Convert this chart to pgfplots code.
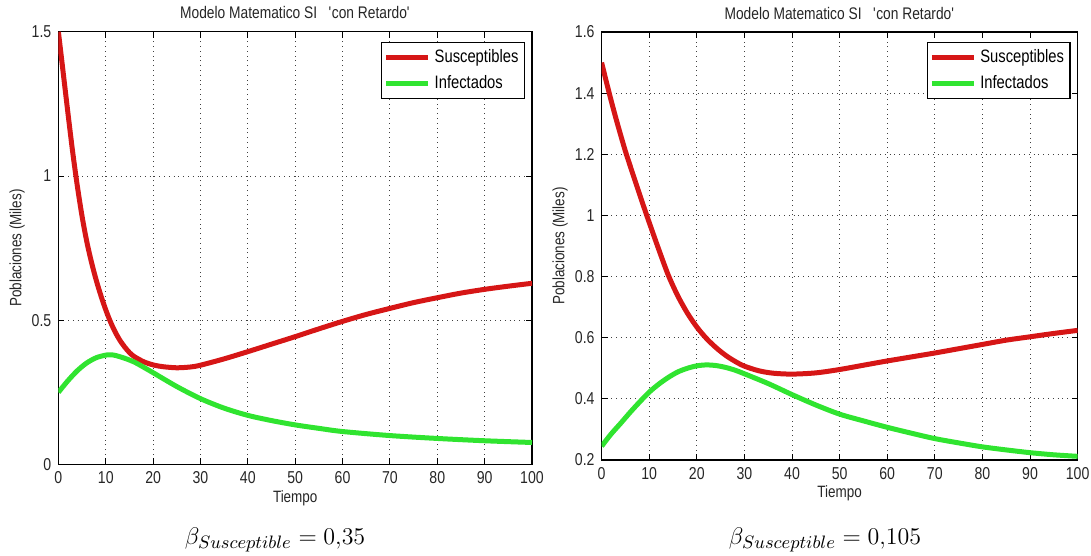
\documentclass[border=0pt]{standalone}
\usepackage[no-math]{fontspec}
\setmainfont{Liberation Sans}[FakeStretch=0.82]
\usepackage{pgfplots}
\pgfplotsset{compat=1.18}
\definecolor{sred}{RGB}{214,22,22}
\definecolor{igreen}{RGB}{48,228,48}
\pgfplotsset{
  sirstyle/.style={
    scale only axis,
    xmin=0, xmax=100,
    xtick={0,10,...,100},
    grid=major,
    major grid style={dotted, black!75, line width=0.45pt},
    axis line style={line width=0.6pt},
    major tick length=3pt,
    tick style={line width=0.5pt, black},
    /pgf/number format/assume math mode=true,
    tick label style={font=\fontsize{8.6}{10}\selectfont, text=black!85},
    title style={font=\fontsize{8.4}{10}\selectfont, at={(0.5,1)}, anchor=base, yshift=0.5pt, text=black!85},
    xlabel style={font=\fontsize{8.2}{10}\selectfont, at={(axis description cs:0.5,-0.078)}, anchor=center, text=black!85},
    ylabel style={font=\fontsize{8.2}{10}\selectfont, at={(axis description cs:-0.087,0.5)}, anchor=center, text=black!85},
    xlabel={Tiempo},
    ylabel={Poblaciones (Miles)},
    title={Modelo Matematico SI\ \ \ \textquotesingle con Retardo\textquotesingle},
    legend style={at={(1,1)}, anchor=north east, xshift=-3.5pt, yshift=-5pt,
      draw=black, line width=0.6pt, font=\fontsize{9}{10.5}\selectfont,
      inner xsep=1pt, inner ysep=1.5pt, row sep=1pt},
    legend cell align=left,
    legend image code/.code={\draw[#1, line width=2.5pt] (0pt,0pt) -- (21pt,0pt);},
  }
}
\begin{document}
\begin{tikzpicture}
\useasboundingbox (0,0) rectangle (545.5pt,-278pt);
% Left panel
\begin{axis}[sirstyle,
  at={(29.2pt,-232.2pt)}, anchor=south west,
  width=236.8pt, height=216.3pt,
  ymin=0, ymax=1.5, ytick={0,0.5,1,1.5}]
\addplot[sred, line width=2.5pt, smooth] coordinates {
(0,1.50) (1,1.36) (2,1.22) (3,1.085) (4,0.965) (5,0.86) (6,0.772) (7,0.70) (8,0.638) (9,0.584) (10,0.536) (11,0.494) (12,0.459) (13,0.43) (14,0.407) (15,0.388) (16,0.374) (18,0.356) (20,0.345) (22,0.339) (25,0.335) (28,0.338) (30,0.344) (35,0.366) (40,0.391) (45,0.417) (50,0.443) (55,0.47) (60,0.496) (65,0.52) (70,0.541) (75,0.561) (80,0.578) (85,0.594) (90,0.607) (95,0.618) (100,0.628)
};
\addlegendentry{Susceptibles}
\addplot[igreen, line width=2.5pt, smooth] coordinates {
(0,0.25) (2,0.29) (4,0.325) (6,0.352) (8,0.370) (10,0.379) (11,0.380) (12,0.378) (14,0.368) (16,0.355) (18,0.337) (20,0.318) (25,0.27) (30,0.228) (35,0.195) (40,0.17) (45,0.152) (50,0.137) (55,0.125) (60,0.114) (70,0.100) (80,0.090) (90,0.082) (100,0.076)
};
\addlegendentry{Infectados}
\end{axis}
% Right panel
\begin{axis}[sirstyle,
  at={(300.8pt,-230pt)}, anchor=south west,
  width=238pt, height=214pt,
  ymin=0.2, ymax=1.6, ytick={0.2,0.4,...,1.6}]
\addplot[sred, line width=2.5pt, smooth] coordinates {
(0,1.50) (1,1.437) (2,1.376) (3,1.318) (4,1.263) (5,1.21) (6,1.162) (7,1.115) (8,1.068) (9,1.022) (10,0.977) (12,0.889) (14,0.805) (16,0.737) (18,0.681) (20,0.635) (22,0.598) (24,0.568) (26,0.543) (28,0.523) (30,0.507) (33,0.492) (36,0.484) (40,0.481) (45,0.485) (50,0.496) (55,0.51) (60,0.524) (65,0.537) (70,0.55) (75,0.564) (80,0.578) (85,0.592) (90,0.603) (95,0.614) (100,0.624)
};
\addlegendentry{Susceptibles}
\addplot[igreen, line width=2.5pt, smooth] coordinates {
(0,0.245) (2,0.285) (4,0.32) (6,0.356) (8,0.39) (10,0.422) (12,0.448) (14,0.47) (16,0.488) (18,0.50) (20,0.508) (22,0.511) (24,0.509) (26,0.503) (28,0.494) (30,0.482) (35,0.45) (40,0.414) (45,0.38) (50,0.35) (55,0.328) (60,0.307) (65,0.288) (70,0.27) (75,0.256) (80,0.243) (85,0.233) (90,0.224) (95,0.217) (100,0.212)
};
\addlegendentry{Infectados}
\end{axis}
\node[anchor=base, font=\fontsize{13}{15}\selectfont] at (137.5pt,-272pt) {$\beta_{Susceptible} = 0{,}35$};
\node[anchor=base, font=\fontsize{13}{15}\selectfont] at (412.5pt,-272pt) {$\beta_{Susceptible} = 0{,}105$};
\end{tikzpicture}
\end{document}
